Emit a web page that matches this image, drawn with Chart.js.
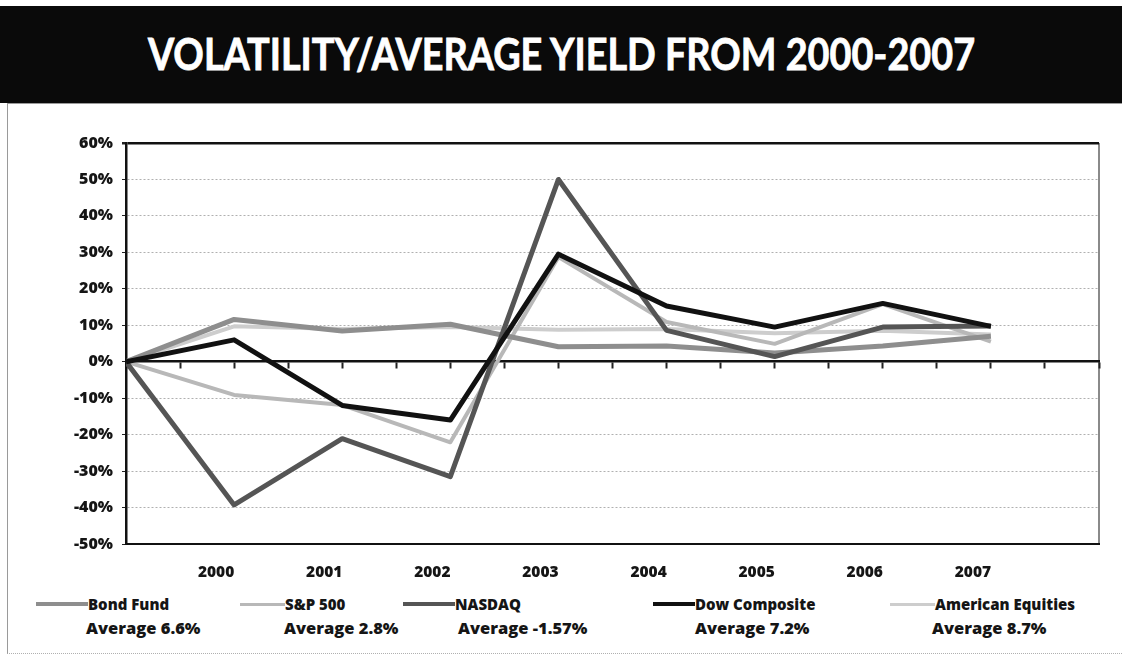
<!DOCTYPE html>
<html>
<head>
<meta charset="utf-8">
<script src="https://cdn.jsdelivr.net/npm/chart.js@4.4.1/dist/chart.umd.min.js"></script>
<style>
  html, body { margin: 0; padding: 0; background: #fff; }
  body { width: 1122px; height: 658px; position: relative; overflow: hidden; font-family: "Open Sans", Lato, sans-serif; }
  #titleBar { position: absolute; left: 0; top: 6px; width: 1122px; height: 97px; background: #0a0a0a; }
  #title { position: absolute; left: 148px; top: 31px; color: #fff; font-family: Lato, sans-serif; font-weight: 700; font-size: 44px; line-height: 44px; white-space: nowrap; transform-origin: left center; -webkit-text-stroke: 0.8px #fff; }
  #frame { position: absolute; left: 7px; top: 103px; width: 1114px; height: 549px; border-left: 1px solid #9a9a9a; border-top: 1px solid #9a9a9a; border-bottom: 1px dotted #b0b0b0; }
  #chartBox { position: absolute; left: 0; top: 104px; width: 1122px; height: 490px; }
  .leg { position: absolute; font-weight: 800; font-size: 15px; line-height: 20px; color: #151515; white-space: nowrap; }
  .sample { position: absolute; }
</style>
</head>
<body>
<div id="titleBar"></div>
<div id="title">VOLATILITY/AVERAGE YIELD FROM 2000-2007</div>
<div id="frame"></div>
<div id="chartBox"><canvas id="yieldChart"></canvas></div>
<div id="legend"></div>
<script>
const years = ["", "2000", "2001", "2002", "2003", "2004", "2005", "2006", "2007"];
const bondFund = [0, 11.6, 8.4, 10.3, 4.1, 4.3, 2.4, 4.3, 7.0];
const sp500 = [0, -9.1, -11.9, -22.1, 28.7, 10.9, 4.9, 15.8, 5.5];
const nasdaq = [0, -39.3, -21.1, -31.5, 50.0, 8.6, 1.4, 9.5, 9.8];
const dowComposite = [0, 6.0, -12.0, -16.0, 29.5, 15.3, 9.5, 16.0, 9.7];
const americanEquities = [0, 9.7, 9.0, 9.5, 8.8, 9.0, 7.8, 8.5, 7.5];
const seriesNames = ["Bond Fund", "S&P 500", "NASDAQ", "Dow Composite", "American Equities"];
const averages = ["Average 6.6%", "Average 2.8%", "Average -1.57%", "Average 7.2%", "Average 8.7%"];

const seriesValues = [bondFund, sp500, nasdaq, dowComposite, americanEquities];
const colors = ["#8e8e8e", "#b8b8b8", "#555555", "#111111", "#cdcdcd"];
const widths = [5, 4, 5, 5, 4];
const drawOrder = [2, 3, 1, 0, 4];

// legend layout (page pixels)
const legendTextX = [88, 285, 455, 695, 935];
const legendSampleW = [52, 45, 52, 42, 45];
const averageX = [86, 284, 458, 695, 932];

const fontFamily = "'Open Sans', Lato, sans-serif";

// fit title to reference width
const title = document.getElementById("title");
title.style.transform = "scaleX(" + (827 / title.offsetWidth) + ")";

const legend = document.getElementById("legend");
seriesNames.forEach((name, i) => {
  const s = document.createElement("div");
  s.className = "sample";
  s.style.left = (legendTextX[i] - legendSampleW[i]) + "px";
  s.style.width = legendSampleW[i] + "px";
  s.style.height = (widths[i] - 1) + "px";
  s.style.top = (604 - (widths[i] - 1) / 2) + "px";
  s.style.background = colors[i];
  legend.appendChild(s);

  const t = document.createElement("div");
  t.className = "leg";
  t.style.left = legendTextX[i] + "px";
  t.style.top = "594px";
  t.textContent = name;
  legend.appendChild(t);

  const a = document.createElement("div");
  a.className = "leg";
  a.style.left = averageX[i] + "px";
  a.style.top = "618px";
  a.style.fontSize = "16.5px";
  a.textContent = averages[i];
  legend.appendChild(a);
});

const datasets = seriesNames.map((name, i) => ({
  label: name,
  data: seriesValues[i].map((v, k) => ({ x: k, y: v })),
  borderColor: colors[i],
  backgroundColor: colors[i],
  borderWidth: widths[i],
  pointRadius: 0,
  tension: 0,
  fill: false,
  order: drawOrder[i],
  borderJoinStyle: "round"
}));

new Chart(document.getElementById("yieldChart"), {
  type: "line",
  data: { datasets },
  options: {
    responsive: true,
    maintainAspectRatio: false,
    animation: false,
    layout: { padding: { left: 20, right: 23, top: 39, bottom: 6 } },
    plugins: { legend: { display: false }, tooltip: { enabled: false } },
    scales: {
      x: {
        type: "linear",
        position: "bottom",
        min: 0,
        max: 9,
        afterBuildTicks: s => { s.ticks = years.concat([""]).map((_, k) => ({ value: k })); },
        ticks: {
          autoSkip: false,
          maxRotation: 0,
          padding: 19,
          labelOffset: -18,
          color: "#151515",
          font: { family: fontFamily, size: 15.5, weight: "800" },
          callback: v => years[v] || ""
        },
        grid: {
          drawOnChartArea: true,
          drawTicks: false,
          color: c => (c.tick && c.tick.value === 9) ? "#8a8a8a" : "rgba(0,0,0,0)",
          lineWidth: 2
        },
        border: { display: true, color: "#111", width: 2 },
        afterFit: s => { s.height = 44; }
      },
      x0: {
        type: "linear",
        axis: "x",
        position: { y: 0 },
        min: 0,
        max: 9,
        ticks: { display: true, stepSize: 0.5, autoSkip: false, color: "rgba(0,0,0,0)", callback: () => "" },
        grid: { drawOnChartArea: false, drawTicks: true, tickLength: 6, tickColor: "#222", tickWidth: 2 },
        border: { display: true, color: "#111", width: 2.5 }
      },
      y: {
        min: -50,
        max: 60,
        ticks: {
          stepSize: 10,
          padding: 9,
          color: "#151515",
          font: { family: fontFamily, size: 16, weight: "800" },
          callback: v => v + "%"
        },
        grid: {
          color: c => (c.tick && c.tick.value === 60) ? "#111" : "#b0b0b0",
          lineWidth: c => (c.tick && c.tick.value === 60) ? 2.5 : 1,
          drawTicks: true,
          tickLength: 4,
          tickColor: "#222"
        },
        border: {
          display: true,
          color: "#111",
          width: 2.5,
          dash: c => (c.tick && c.tick.value === 60) ? [] : [2, 2]
        },
        afterFit: s => { s.width = 106; }
      }
    }
  }
});
</script>
</body>
</html>
